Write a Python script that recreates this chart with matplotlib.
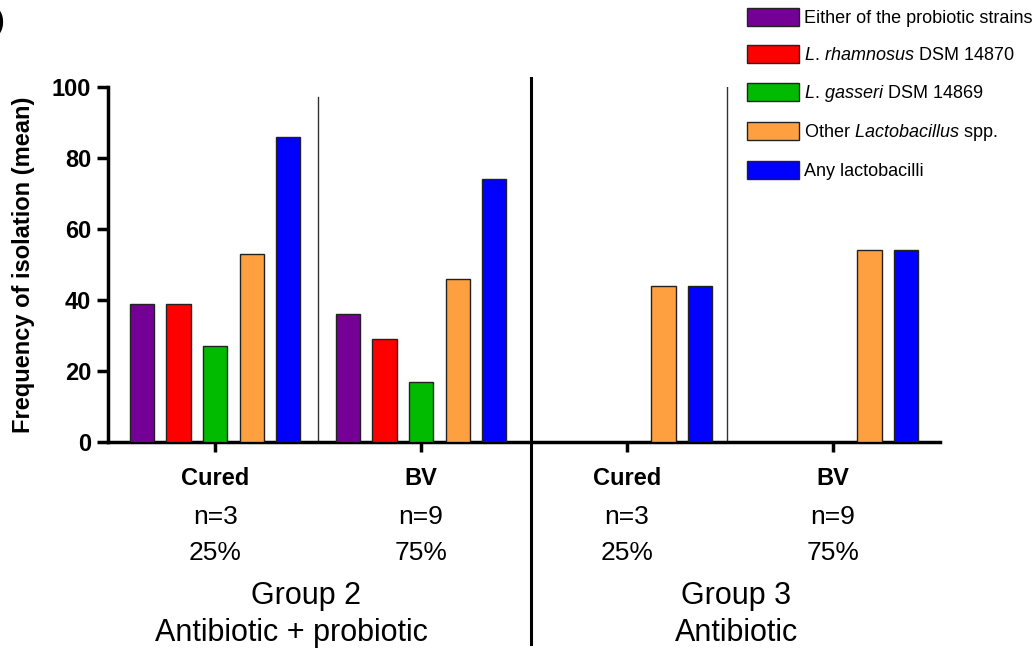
import matplotlib
matplotlib.use("Agg")
import matplotlib.pyplot as plt
import matplotlib.transforms as mtransforms
from matplotlib.patches import Patch
import numpy as np

plt.rcParams['font.family'] = ['Liberation Sans', 'DejaVu Sans']
plt.rcParams['mathtext.fontset'] = 'custom'
plt.rcParams['mathtext.rm'] = 'Liberation Sans'
plt.rcParams['mathtext.it'] = 'Liberation Sans:italic'

# ---- data ----
categories = ["Cured", "BV", "Cured", "BV"]
n_labels = ["n=3", "n=9", "n=3", "n=9"]
pct_labels = ["25%", "75%", "25%", "75%"]
series_names = [
    "Either of the probiotic strains",
    r"$\mathit{L.\,rhamnosus}$ DSM 14870",
    r"$\mathit{L.\,gasseri}$ DSM 14869",
    r"Other $\mathit{Lactobacillus}$ spp.",
    "Any lactobacilli",
]
either_probiotic = [39, 36, 0, 0]
l_rhamnosus = [39, 29, 0, 0]
l_gasseri = [27, 17, 0, 0]
other_lacto = [53, 46, 44, 54]
any_lacto = [86, 74, 44, 54]
series_values = [either_probiotic, l_rhamnosus, l_gasseri, other_lacto, any_lacto]
group_titles = ["Group 2", "Group 3"]
group_subtitles = ["Antibiotic + probiotic", "Antibiotic"]

colors = ["#740096", "#ff0000", "#00bb00", "#ffa040", "#0000ff"]

fig = plt.figure(figsize=(10.35, 6.52), dpi=100)
ax = fig.add_axes([108 / 1035, 1 - 442 / 652, (940 - 108) / 1035, (442 - 87) / 652])

x = np.arange(len(categories))
offset = 0.1775
width = 0.117
handles = []
for i, (vals, c, name) in enumerate(zip(series_values, colors, series_names)):
    xs = x + (i - 2) * offset
    v = np.array(vals, dtype=float)
    mask = v > 0
    ax.bar(xs[mask], v[mask], width=width, color=c, edgecolor="#222222", linewidth=1.0, zorder=3)
    handles.append(Patch(facecolor=c, edgecolor="#222222", linewidth=1.0, label=name))

ax.set_xlim(-0.52, 3.52)
ax.set_ylim(0, 100)
ax.set_yticks([0, 20, 40, 60, 80, 100])
ax.set_xticks(x)
ax.set_xticklabels(categories, fontsize=17, fontweight="bold")
for lab in ax.get_yticklabels():
    lab.set_fontweight("bold")
ax.tick_params(axis="y", labelsize=17, width=2.5, length=8, direction="out", pad=4)
ax.tick_params(axis="x", width=2.5, length=7, direction="out", pad=11)
for s in ["top", "right"]:
    ax.spines[s].set_visible(False)
for s in ["left", "bottom"]:
    ax.spines[s].set_linewidth(2.5)
ax.set_ylabel("Frequency of isolation (mean)", fontsize=17, fontweight="bold", labelpad=12)

# separators
ax.plot([0.5, 0.5], [0, 97.2], color="#333333", lw=1.0, zorder=2)
ax.plot([2.484, 2.484], [0, 100], color="#333333", lw=1.0, zorder=2)
trans = mtransforms.blended_transform_factory(ax.transData, ax.transAxes)
ax.plot([1.536, 1.536], [1.025, -0.57], color="black", lw=2.2, transform=trans, clip_on=False, zorder=4)

# lower labels
for xi, nl, pl in zip(x, n_labels, pct_labels):
    ax.text(xi, -0.211, nl, transform=trans, ha="center", va="center", fontsize=19)
    ax.text(xi, -0.313, pl, transform=trans, ha="center", va="center", fontsize=19)

ax.text(0.44, -0.434, group_titles[0], transform=trans, ha="center", va="center", fontsize=22)
ax.text(0.37, -0.538, group_subtitles[0], transform=trans, ha="center", va="center", fontsize=22)
ax.text(2.53, -0.434, group_titles[1], transform=trans, ha="center", va="center", fontsize=22)
ax.text(2.53, -0.538, group_subtitles[1], transform=trans, ha="center", va="center", fontsize=22)

# legend
leg_fs = 13
fs_px = leg_fs * 100 / 72
fig.legend(handles=handles, loc="upper left", bbox_to_anchor=(747 / 1035, 1 - 8 / 652),
           frameon=False, prop={'size': leg_fs},
           handlelength=52 / fs_px, handleheight=1.15,
           handletextpad=0.25, labelspacing=39 / fs_px - 1.15,
           borderpad=0, borderaxespad=0)

# clipped panel label remnant (cut at the left edge, as in the reference)
fig.text(-0.004, 1 - 22 / 652, ")", fontsize=18, fontweight="bold", ha="left", va="center")

fig.savefig("out.png", dpi=100)
